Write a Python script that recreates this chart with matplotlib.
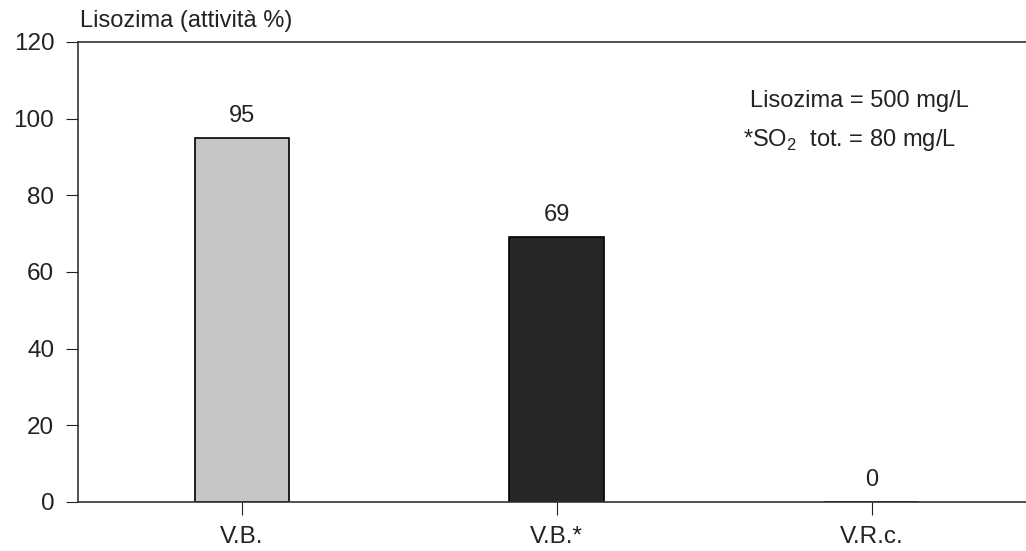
"""
Lisozima activity bar chart
"""

import matplotlib
matplotlib.use('Agg')
import matplotlib.pyplot as plt

# Data
categories = ['V.B.', 'V.B.*', 'V.R.c.']
activity = [95, 69, 0]
bar_colors = ['#c6c6c6', '#262626', '#808080']
y_ticks = [0, 20, 40, 60, 80, 100, 120]

title_text = 'Lisozima (attività %)'
note_lines = ['Lisozima = 500 mg/L', r'*SO$_\mathregular{2}$  tot. = 80 mg/L']


def main():
    plt.rcParams['font.family'] = ['Liberation Sans', 'DejaVu Sans']
    plt.rcParams['mathtext.fontset'] = 'custom'
    plt.rcParams['mathtext.rm'] = 'Liberation Sans'

    fig = plt.figure(figsize=(10.26, 5.51), dpi=100)
    ax = fig.add_axes([0.076, 0.089, 0.924, 0.835])

    x = list(range(len(categories)))
    bars = ax.bar(x, activity, width=0.3, color=bar_colors,
                  edgecolor='black', linewidth=1.2)

    # Value labels above bars
    for rect, val in zip(bars, activity):
        ax.annotate(f'{val}', (rect.get_x() + rect.get_width() / 2, val),
                    xytext=(0, 8), textcoords='offset points',
                    ha='center', va='bottom', fontsize=17, color='#222222')

    ax.set_xlim(-0.52, 2.49)
    ax.set_ylim(0, 120)
    ax.set_yticks(y_ticks)
    ax.set_xticks(x)
    ax.set_xticklabels(categories)

    ax.tick_params(axis='y', length=9, width=0.8, pad=8, labelsize=17.5,
                   colors='#222222')
    ax.tick_params(axis='x', length=9, width=0.8, pad=8, labelsize=17.5,
                   colors='#222222')

    ax.spines['right'].set_visible(False)
    for side in ['left', 'bottom', 'top']:
        ax.spines[side].set_linewidth(1.2)
        ax.spines[side].set_color('#333333')

    fig.text(80 / 1026, 1 - 21 / 551, title_text, ha='left', va='center',
             fontsize=17, color='#222222')

    ax.text(0.709, 0.872, note_lines[0], transform=ax.transAxes,
            ha='left', va='center', fontsize=17, color='#222222')
    ax.text(0.702, 0.787, note_lines[1], transform=ax.transAxes,
            ha='left', va='center', fontsize=17, color='#222222')

    fig.savefig('out.png', dpi=100)


if __name__ == '__main__':
    main()
